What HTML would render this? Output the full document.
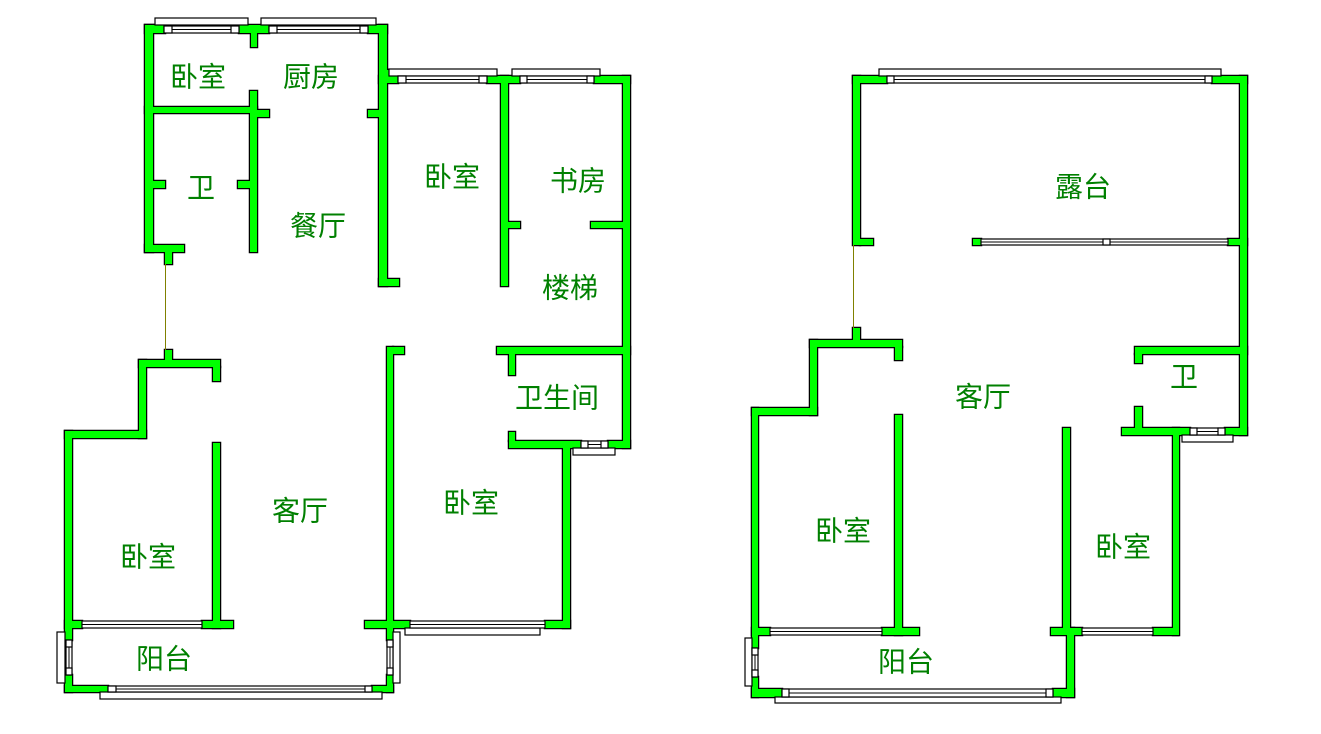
<!DOCTYPE html>
<html><head><meta charset="utf-8"><style>
html,body{margin:0;padding:0;background:#fff;}
svg{display:block;}
.t{font-family:"Liberation Sans","Noto Sans CJK SC",sans-serif;font-size:28px;fill:#008000;text-anchor:middle;dominant-baseline:central;}
</style></head><body>
<svg width="1321" height="734" viewBox="0 0 1321 734" xmlns="http://www.w3.org/2000/svg">
<defs>
<g id="walls">
<rect x="145" y="25" width="20" height="8"/>
<rect x="239" y="25" width="30" height="8"/>
<rect x="251" y="33" width="6" height="14"/>
<rect x="368" y="25" width="19" height="8"/>
<rect x="379" y="25" width="8" height="261"/>
<rect x="387" y="70" width="11" height="7"/>
<rect x="368" y="110" width="11" height="7"/>
<rect x="379" y="279" width="20" height="7"/>
<rect x="145" y="25" width="8" height="227"/>
<rect x="145" y="107" width="112" height="6"/>
<rect x="250" y="91" width="7" height="161"/>
<rect x="257" y="110" width="12" height="7"/>
<rect x="153" y="181" width="12" height="7"/>
<rect x="238" y="181" width="12" height="7"/>
<rect x="145" y="245" width="39" height="7"/>
<rect x="165" y="252" width="7" height="12"/>
<rect x="165" y="350" width="7" height="10"/>
<rect x="139" y="360" width="81" height="7"/>
<rect x="213" y="367" width="7" height="14"/>
<rect x="139" y="360" width="7" height="78"/>
<rect x="65" y="431" width="81" height="7"/>
<rect x="65" y="431" width="7" height="209"/>
<rect x="65" y="675" width="7" height="17"/>
<rect x="213" y="443" width="7" height="185"/>
<rect x="65" y="621" width="17" height="7"/>
<rect x="202" y="621" width="31" height="7"/>
<rect x="65" y="686" width="43" height="6"/>
<rect x="372" y="686" width="21" height="6"/>
<rect x="387" y="675" width="6" height="17"/>
<rect x="387" y="347" width="6" height="293"/>
<rect x="393" y="347" width="11" height="7"/>
<rect x="365" y="621" width="45" height="7"/>
<rect x="545" y="621" width="25" height="7"/>
<rect x="563" y="448" width="7" height="180"/>
<rect x="509" y="441" width="72" height="7"/>
<rect x="608" y="441" width="22" height="7"/>
<rect x="509" y="432" width="6" height="9"/>
<rect x="497" y="347" width="133" height="7"/>
<rect x="509" y="354" width="6" height="21"/>
<rect x="623" y="76" width="7" height="372"/>
<rect x="379" y="76" width="19" height="7"/>
<rect x="487" y="76" width="33" height="7"/>
<rect x="594" y="76" width="36" height="7"/>
<rect x="501" y="76" width="7" height="210"/>
<rect x="508" y="222" width="12" height="6"/>
<rect x="591" y="222" width="32" height="6"/>
<rect x="853" y="76" width="34" height="7"/>
<rect x="1212" y="76" width="35" height="7"/>
<rect x="853" y="76" width="7" height="169"/>
<rect x="860" y="239" width="13" height="6"/>
<rect x="853" y="328" width="7" height="14"/>
<rect x="810" y="340" width="92" height="7"/>
<rect x="895" y="347" width="7" height="13"/>
<rect x="810" y="340" width="7" height="75"/>
<rect x="752" y="408" width="65" height="7"/>
<rect x="752" y="408" width="6" height="240"/>
<rect x="752" y="677" width="6" height="20"/>
<rect x="752" y="689" width="30" height="8"/>
<rect x="1053" y="689" width="21" height="8"/>
<rect x="1067" y="628" width="7" height="69"/>
<rect x="752" y="628" width="18" height="7"/>
<rect x="882" y="628" width="37" height="7"/>
<rect x="895" y="415" width="7" height="220"/>
<rect x="1051" y="628" width="31" height="7"/>
<rect x="1153" y="628" width="25" height="7"/>
<rect x="1063" y="428" width="7" height="200"/>
<rect x="1173" y="428" width="6" height="207"/>
<rect x="1135" y="347" width="112" height="7"/>
<rect x="1135" y="354" width="7" height="9"/>
<rect x="1135" y="407" width="7" height="21"/>
<rect x="1122" y="428" width="68" height="7"/>
<rect x="1225" y="428" width="22" height="7"/>
<rect x="1240" y="76" width="7" height="359"/>
<rect x="973" y="239" width="8" height="6"/>
<rect x="1228" y="239" width="19" height="6"/>
</g>
</defs>
<use href="#walls" fill="none" stroke="#000" stroke-width="2.5"/>
<use href="#walls" fill="#00ff00" stroke="none"/>
<g fill="#fff" stroke="#000" stroke-width="1.2">
<rect x="155" y="18" width="93" height="7"/>
<rect x="261" y="18" width="115" height="7"/>
<rect x="389" y="69" width="108" height="7"/>
<rect x="512" y="69" width="88" height="7"/>
<rect x="57" y="632" width="8" height="51"/>
<rect x="100" y="692" width="282" height="7"/>
<rect x="393" y="632" width="7" height="51"/>
<rect x="405" y="628" width="135" height="7"/>
<rect x="573" y="448" width="42" height="7"/>
<rect x="879" y="69" width="342" height="7"/>
<rect x="745" y="638" width="7" height="48"/>
<rect x="775" y="697" width="286" height="6"/>
<rect x="1182" y="435" width="51" height="7"/>
<rect x="164" y="26" width="75" height="7"/>
<rect x="269" y="26" width="99" height="7"/>
<rect x="82" y="621" width="120" height="7"/>
<rect x="108" y="686" width="264" height="6"/>
<rect x="66" y="640" width="6" height="35"/>
<rect x="387" y="640" width="6" height="35"/>
<rect x="410" y="621" width="135" height="7"/>
<rect x="581" y="441" width="27" height="7"/>
<rect x="398" y="76" width="89" height="7"/>
<rect x="520" y="76" width="74" height="7"/>
<rect x="887" y="76" width="325" height="7"/>
<rect x="752" y="648" width="6" height="29"/>
<rect x="782" y="689" width="271" height="8"/>
<rect x="770" y="628" width="112" height="7"/>
<rect x="1082" y="628" width="71" height="7"/>
<rect x="1190" y="428" width="35" height="7"/>
<rect x="981" y="239" width="247" height="6"/>
<rect x="164" y="26" width="8" height="7"/><rect x="231" y="26" width="8" height="7"/>
<rect x="269" y="26" width="8" height="7"/><rect x="360" y="26" width="8" height="7"/>
<rect x="398" y="76" width="8" height="7"/><rect x="479" y="76" width="8" height="7"/>
<rect x="520" y="76" width="7" height="7"/><rect x="587" y="76" width="7" height="7"/>
<rect x="108" y="686" width="8" height="6"/><rect x="365" y="686" width="7" height="6"/>
<rect x="66" y="640" width="6" height="7"/><rect x="66" y="668" width="6" height="7"/>
<rect x="387" y="640" width="6" height="7"/><rect x="387" y="668" width="6" height="7"/>
<rect x="581" y="441" width="7" height="7"/><rect x="601" y="441" width="7" height="7"/>
<rect x="887" y="76" width="7" height="7"/><rect x="1205" y="76" width="7" height="7"/>
<rect x="752" y="648" width="6" height="7"/><rect x="752" y="670" width="6" height="7"/>
<rect x="782" y="689" width="7" height="8"/><rect x="1046" y="689" width="7" height="8"/>
<rect x="1190" y="428" width="7" height="7"/><rect x="1218" y="428" width="7" height="7"/>
<rect x="1103" y="239" width="7" height="6"/>
</g>
<g stroke="#000" stroke-width="1">
<line x1="172" y1="29.5" x2="231" y2="29.5"/>
<line x1="277" y1="29.5" x2="360" y2="29.5"/>
<line x1="406" y1="79.5" x2="479" y2="79.5"/>
<line x1="527" y1="79.5" x2="587" y2="79.5"/>
<line x1="82" y1="624.5" x2="202" y2="624.5"/>
<line x1="116" y1="689" x2="365" y2="689"/>
<line x1="69" y1="647" x2="69" y2="668"/>
<line x1="390" y1="647" x2="390" y2="668"/>
<line x1="410" y1="624.5" x2="545" y2="624.5"/>
<line x1="588" y1="444.5" x2="601" y2="444.5"/>
<line x1="894" y1="79.5" x2="1205" y2="79.5"/>
<line x1="755" y1="655" x2="755" y2="670"/>
<line x1="789" y1="693" x2="1046" y2="693"/>
<line x1="770" y1="631.5" x2="882" y2="631.5"/>
<line x1="1082" y1="631.5" x2="1153" y2="631.5"/>
<line x1="1197" y1="431.5" x2="1218" y2="431.5"/>
<line x1="981" y1="242" x2="1103" y2="242"/>
<line x1="1110" y1="242" x2="1228" y2="242"/>
</g>
<g stroke="#808000" stroke-width="1">
<line x1="165.5" y1="264" x2="165.5" y2="350"/>
<line x1="853.5" y1="245" x2="853.5" y2="328"/>
</g>
<g class="t">
<text x="198" y="77">卧室</text>
<text x="311" y="77">厨房</text>
<text x="201" y="188">卫</text>
<text x="318" y="226">餐厅</text>
<text x="452" y="177">卧室</text>
<text x="578" y="181">书房</text>
<text x="570" y="288">楼梯</text>
<text x="557" y="398">卫生间</text>
<text x="300" y="511">客厅</text>
<text x="471" y="503">卧室</text>
<text x="148" y="557">卧室</text>
<text x="164" y="659">阳台</text>
<text x="1083" y="187">露台</text>
<text x="983" y="397">客厅</text>
<text x="1184" y="377">卫</text>
<text x="843" y="531">卧室</text>
<text x="1123" y="547">卧室</text>
<text x="906" y="662">阳台</text>
</g>
</svg>
</body></html>
